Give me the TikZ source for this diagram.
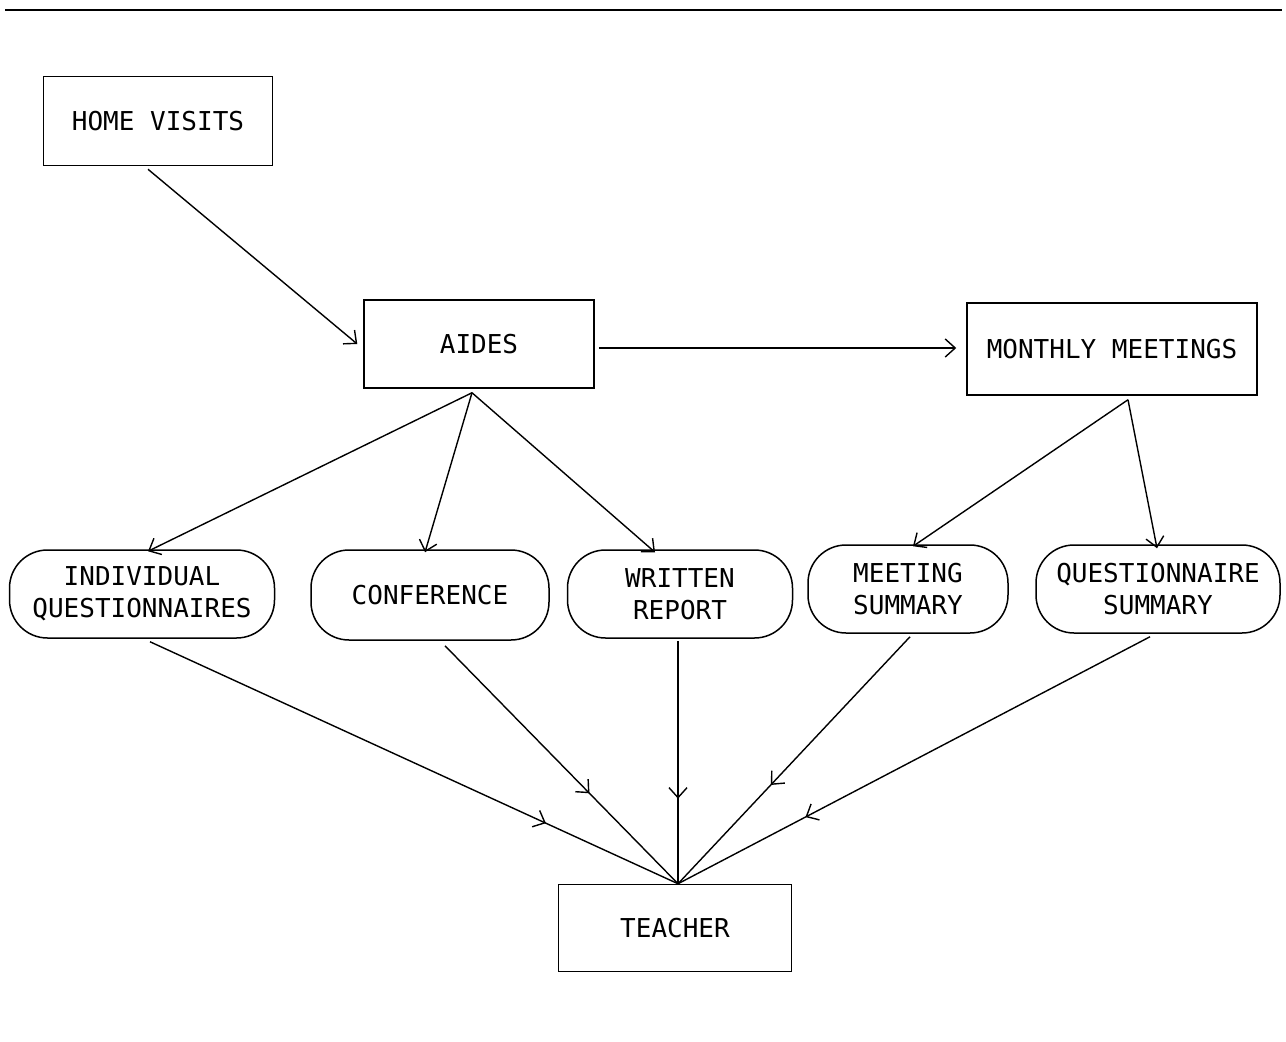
\documentclass[tikz,border=0pt]{standalone}
\usepackage{fontspec}
\setmonofont{DejaVu Sans Mono}
\usetikzlibrary{arrows.meta,decorations.markings}
\tikzset{
  box/.style={draw, line width=1.5pt, inner sep=0pt, font=\ttfamily\fontsize{26}{32}\selectfont, align=center},
  pill/.style={box, rounded corners=38pt},
  conn/.style={line width=1.4pt, -{Straight Barb[length=10pt,width=18pt,line width=1.4pt]}},
  midconn/.style={line width=1.4pt, postaction={decorate}, decoration={markings, mark=at position #1 with {\arrow{Straight Barb[length=10pt,width=18pt,line width=1.4pt]}}}}
}
\begin{document}
\begin{tikzpicture}[x=1pt,y=-1pt]
\useasboundingbox (0,0) rectangle (1286,1042);
\draw[line width=1.8pt] (5,10) -- (1282,10);
\node[box, minimum width=229pt, minimum height=89pt] (hv) at (158,121) {HOME VISITS};
\node[box, minimum width=230pt, minimum height=88pt] (aides) at (479,344) {AIDES};
\node[box, minimum width=290pt, minimum height=92pt] (mm) at (1112,349) {MONTHLY MEETINGS};
\node[pill, minimum width=265pt, minimum height=88pt] (iq) at (142,594) {INDIVIDUAL\\QUESTIONNAIRES};
\node[pill, minimum width=238pt, minimum height=90pt] (conf) at (430,595) {CONFERENCE};
\node[pill, minimum width=225pt, minimum height=88pt] (wr) at (680,594) {WRITTEN\\REPORT};
\node[pill, minimum width=200pt, minimum height=88pt] (ms) at (908,589) {MEETING\\SUMMARY};
\node[pill, minimum width=244pt, minimum height=88pt] (qs) at (1158,589) {QUESTIONNAIRE\\SUMMARY};
\node[box, minimum width=233pt, minimum height=87pt] (teacher) at (675,928) {TEACHER};
\coordinate (tp) at ([xshift=3pt]teacher.north);
\draw[conn] ([xshift=-10pt,yshift=-3pt]hv.south) -- ([xshift=-6pt]aides.west);
\draw[conn] ([xshift=4pt,yshift=-4pt]aides.east) -- ([xshift=-10pt,yshift=1pt]mm.west);
\coordinate (ab) at ([xshift=-7pt,yshift=-4pt]aides.south);
\draw[conn] (ab) -- ([xshift=6pt,yshift=-2pt]iq.north);
\draw[conn] (ab) -- ([xshift=-5pt,yshift=-3pt]conf.north);
\draw[conn] (ab) -- ([xshift=-25pt,yshift=-3pt]wr.north);
\coordinate (mb) at ([xshift=16pt,yshift=-4pt]mm.south);
\draw[conn] (mb) -- ([xshift=5pt,yshift=-2pt]ms.north);
\draw[conn] (mb) -- ([xshift=-1pt,yshift=-4pt]qs.north);
\draw[midconn=0.75] ([xshift=8pt,yshift=-3pt]iq.south) -- (tp);
\draw[midconn=0.62] ([xshift=15pt,yshift=-5pt]conf.south) -- (tp);
\draw[midconn=0.65] ([xshift=-2pt,yshift=-2pt]wr.south) -- (tp);
\draw[midconn=0.60] ([xshift=2pt,yshift=-3pt]ms.south) -- (tp);
\draw[midconn=0.73] ([xshift=-8pt,yshift=-3pt]qs.south) -- (tp);
\end{tikzpicture}
\end{document}
